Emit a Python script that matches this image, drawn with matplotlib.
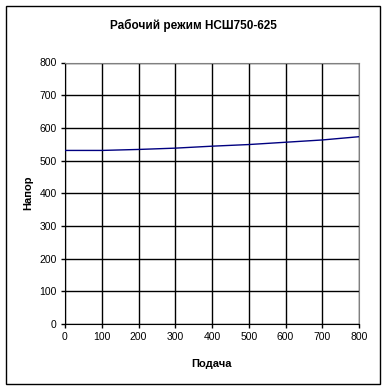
import matplotlib
matplotlib.use("Agg")
import matplotlib.pyplot as plt
from matplotlib.patches import Rectangle

plt.rcParams['font.family'] = ['Liberation Sans', 'DejaVu Sans']

# flow (Подача) and head (Напор)
flow = [0, 100, 200, 300, 400, 500, 600, 700, 800]
head = [531, 531, 534, 538, 544, 549, 556, 563, 573]
x_ticks = [0, 100, 200, 300, 400, 500, 600, 700, 800]
y_ticks = [0, 100, 200, 300, 400, 500, 600, 700, 800]

fig = plt.figure(figsize=(3.86, 3.89), dpi=100)
ax = fig.add_axes([65 / 386, 1 - 324 / 389, (359 - 65) / 386, (324 - 62.5) / 389])

ax.plot(flow, head, color='#000080', linewidth=1.0, zorder=3)

ax.set_xlim(0, 800)
ax.set_ylim(0, 800)
ax.set_xticks(x_ticks)
ax.set_yticks(y_ticks)
ax.grid(True, color='black', linewidth=1.0)
ax.set_axisbelow(True)
ax.tick_params(direction='out', length=3, width=1, labelsize=7.5, pad=3)

for s in ['top', 'right']:
    ax.spines[s].set_color('#808080')
for s in ['left', 'bottom']:
    ax.spines[s].set_color('black')

fig.text(0.5, 1 - 25 / 389, 'Рабочий режим НСШ750-625', fontsize=8.5,
         fontweight='bold', ha='center', va='center')
ax.set_xlabel('Подача', fontsize=8, fontweight='bold', labelpad=12)
ax.set_ylabel('Напор', fontsize=8, fontweight='bold', labelpad=4)

# outer chart border
fig.add_artist(Rectangle((5.5 / 386, 1 - 383.5 / 389), 374 / 386, 378 / 389,
                         transform=fig.transFigure, fill=False,
                         edgecolor='black', linewidth=1.0))

fig.savefig('out.png', dpi=100)
